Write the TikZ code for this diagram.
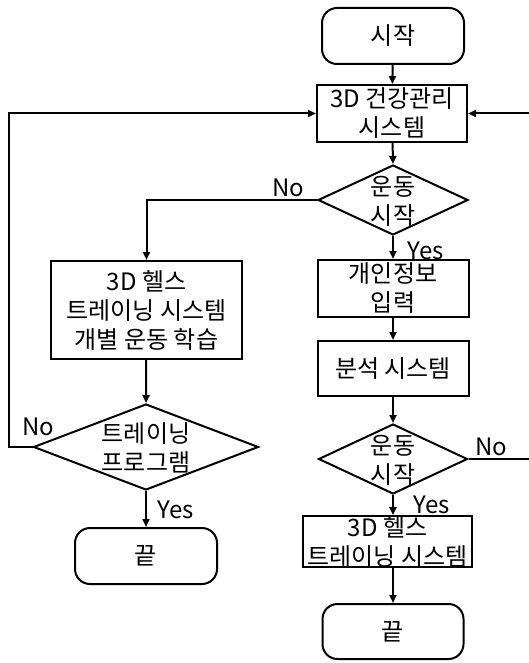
\documentclass[tikz,border=0pt]{standalone}
\usepackage{fontspec}
\setmainfont{Noto Sans CJK KR}
\usetikzlibrary{arrows.meta,shapes.geometric}
\newcommand\myfs{\fontsize{24}{29}\selectfont}
\begin{document}
\begin{tikzpicture}[x=1pt,y=-1pt,
  box/.style={draw, line width=2pt, inner sep=0pt, align=center, font=\myfs},
  term/.style={box, rounded corners=15pt},
  dia/.style={diamond, draw, line width=2pt, inner sep=0pt},
  dtext/.style={inner sep=0pt, align=center, font=\myfs},
  lbl/.style={inner sep=0pt, font=\myfs},
  arr/.style={line width=2pt, -{Triangle[length=8pt,width=7pt]}},
  ln/.style={line width=2pt}]
\useasboundingbox (0,0) rectangle (528,663);
% nodes
\node[term, minimum width=142pt, minimum height=56pt] (start) at (393,36) {시작};
\node[box, minimum width=150pt, minimum height=57pt] (sys) at (392,113.5) {3D 건강관리\\시스템};
\node[dia, minimum width=150pt, minimum height=70pt] (d1) at (393,200) {};
\node[dtext] (d1t) at (393,201) {운동\\시작};
\node[box, minimum width=191pt, minimum height=98pt] (lbox) at (146.5,310) {3D 헬스\\트레이닝 시스템\\개별 운동 학습};
\node[box, minimum width=151pt, minimum height=57pt] (info) at (393,288.5) {개인정보\\입력};
\node[box, minimum width=151pt, minimum height=55pt] (anal) at (393,368.5) {분석 시스템};
\node[dia, minimum width=149pt, minimum height=70pt] (d2) at (393,459) {};
\node[dtext] (d2t) at (393,460) {운동\\시작};
\node[box, minimum width=169pt, minimum height=41pt] (train) at (387.5,541.5) {3D 헬스\\트레이닝 시스템};
\node[term, minimum width=141pt, minimum height=55pt] (end2) at (393,631.5) {끝};
\node[dia, minimum width=225pt, minimum height=86pt] (d3) at (146,447) {};
\node[dtext] (d3t) at (146,448) {트레이닝\\프로그램};
\node[term, minimum width=142pt, minimum height=56pt] (end1) at (146,556) {끝};
% labels
\node[lbl] (l1) at (288,188) {No};
\node[lbl] (l2) at (426,251) {Yes};
\node[lbl] (l3) at (491,447) {No};
\node[lbl] (l4) at (432,505) {Yes};
\node[lbl] (l5) at (38,427) {No};
\node[lbl] (l6) at (176,510) {Yes};
% helper coordinates
\coordinate (rc) at (530,459);
\coordinate (lc) at (9,447);
% connectors
\draw[arr] (start) -- (sys);
\draw[arr] (sys) -- (d1.north);
\draw[arr] (d1.west) -| (lbox.north);
\draw[arr] (d1.south) -- (info.north);
\draw[arr] (info) -- (anal);
\draw[arr] (anal.south) -- (d2.north);
\draw[arr] (d2.south) -- (d2.south |- train.north);
\draw[arr] (d2.south |- train.south) -- (end2.north);
\draw[arr] (d2.east) -- (rc) |- (sys.east);
\draw[arr] (lbox) -- (d3.north);
\draw[arr] (d3.south) -- (end1.north);
\draw[arr] (d3.west) -- (lc) |- (sys.west);
\end{tikzpicture}
\end{document}
